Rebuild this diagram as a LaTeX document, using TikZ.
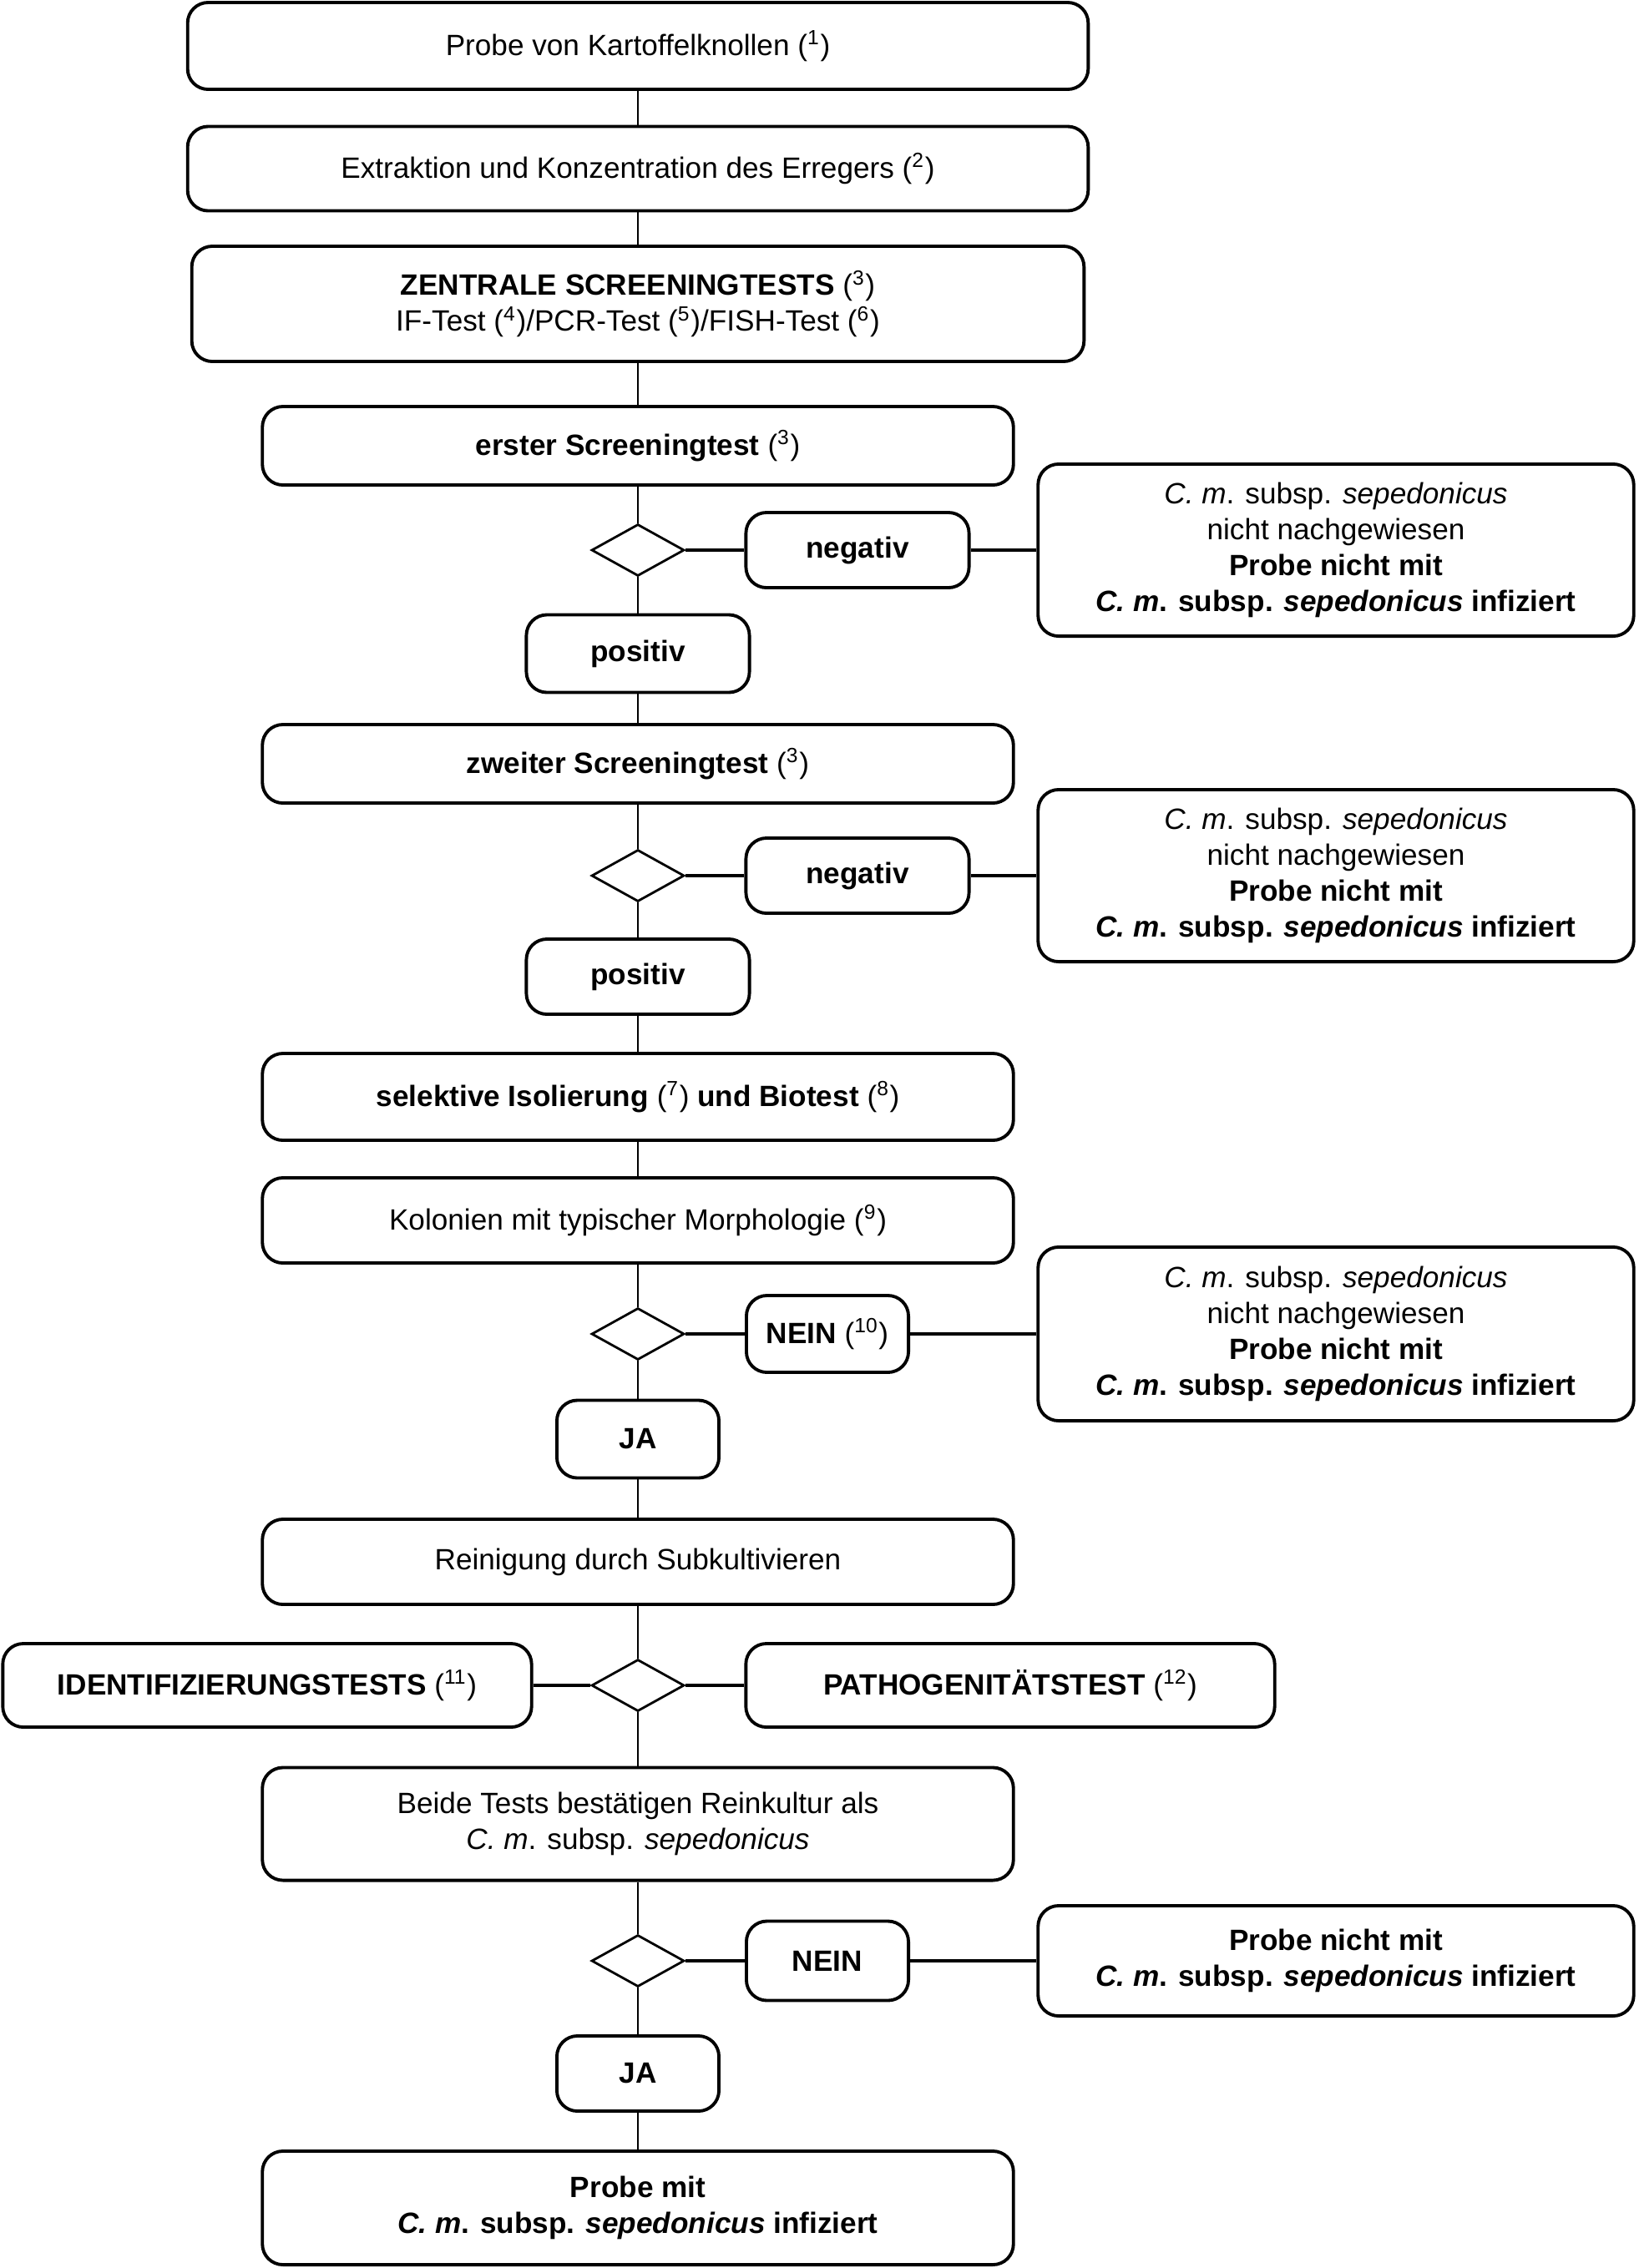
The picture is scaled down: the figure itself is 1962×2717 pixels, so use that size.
\documentclass[tikz,border=0pt]{standalone}
\usepackage{fontspec}
\setmainfont{Liberation Sans}
\usepackage{tikz}
\usetikzlibrary{shapes.geometric,positioning}
\newcommand{\fn}[1]{(\textsuperscript{#1})}
\newcommand{\cms}{\textit{C.~m}. subsp. \textit{sepedonicus}}
\tikzset{
  mainbox/.style={draw, rounded corners=7pt, align=center, line width=1.1pt,
                  font=\fontsize{10}{12.2}\selectfont, inner sep=2pt,
                  minimum width=#1},
  mainbox/.default=8.99cm,
  widebox/.style ={mainbox=10.78cm},
  resbox/.style  ={mainbox=7.13cm},
  answbox/.style ={mainbox=2.67cm, font=\fontsize{10}{12.2}\selectfont\bfseries},
  yesbox/.style  ={mainbox=1.94cm, font=\fontsize{10}{12.2}\selectfont\bfseries},
  testbox/.style ={mainbox=6.33cm, font=\fontsize{10}{12.2}\selectfont\bfseries},
  decision/.style={draw, diamond, line width=0.8pt, inner sep=0pt,
                   minimum width=1.11cm, minimum height=0.62cm},
  vlink/.style   ={line width=0.6pt},
  hlink/.style   ={line width=1.2pt},
}
\begin{document}
\begin{tikzpicture}[x=0.01cm,y=-0.01cm]
  \useasboundingbox (0,0) rectangle (1962,2717);
  % main column
  \node[widebox, minimum height=1.04cm] (probe) at (764,55) {Probe von Kartoffelknollen \fn{1}};
  \node[widebox, minimum height=1.01cm] (extr) at (764,202) {Extraktion und Konzentration des Erregers \fn{2}};
  \node[mainbox=10.68cm, minimum height=1.38cm] (zentr) at (764,364)
       {\textbf{ZENTRALE SCREENINGTESTS} \fn{3}\\IF-Test \fn{4}/PCR-Test \fn{5}/FISH-Test \fn{6}};
  \node[mainbox, minimum height=0.94cm, font=\fontsize{10}{12.2}\selectfont\bfseries] (scra) at (764,534)
       {erster Screeningtest \mdseries\fn{3}};
  \node[decision] (da) at (764,659) {};
  \node[answbox, minimum height=0.90cm] (nega) at (1027,659) {negativ};
  \node[resbox, minimum height=2.06cm] (resa) at (1600,659)
       {\cms\\nicht nachgewiesen\\\textbf{Probe nicht mit}\\\textbf{\cms\ infiziert}};
  \node[answbox, minimum height=0.93cm] (posa) at (764,783) {positiv};
  \node[mainbox, minimum height=0.94cm, font=\fontsize{10}{12.2}\selectfont\bfseries] (scrb) at (764,915)
       {zweiter Screeningtest \mdseries\fn{3}};
  \node[decision] (db) at (764,1049) {};
  \node[answbox, minimum height=0.90cm] (negb) at (1027,1049) {negativ};
  \node[resbox, minimum height=2.06cm] (resb) at (1600,1049)
       {\cms\\nicht nachgewiesen\\\textbf{Probe nicht mit}\\\textbf{\cms\ infiziert}};
  \node[answbox, minimum height=0.90cm] (posb) at (764,1170) {positiv};
  \node[mainbox, minimum height=1.04cm] (iso) at (764,1314)
       {\textbf{selektive Isolierung} \fn{7} \textbf{und Biotest} \fn{8}};
  \node[mainbox, minimum height=1.02cm] (kol) at (764,1462) {Kolonien mit typischer Morphologie \fn{9}};
  \node[decision] (dc) at (764,1598) {};
  \node[yesbox, minimum height=0.92cm] (neinc) at (991,1598) {NEIN \mdseries\fn{10}};
  \node[resbox, minimum height=2.08cm] (resc) at (1600,1598)
       {\cms\\nicht nachgewiesen\\\textbf{Probe nicht mit}\\\textbf{\cms\ infiziert}};
  \node[yesbox, minimum height=0.93cm] (jac) at (764,1724) {JA};
  \node[mainbox, minimum height=1.02cm] (rein) at (764,1871) {Reinigung durch Subkultivieren};
  \node[decision] (dd) at (764,2019) {};
  \node[testbox, minimum height=1.00cm] (ident) at (320,2019) {IDENTIFIZIERUNGSTESTS \mdseries\fn{11}};
  \node[testbox, minimum height=1.00cm] (patho) at (1210,2019) {PATHOGENITÄTSTEST \mdseries\fn{12}};
  \node[mainbox, minimum height=1.35cm] (beide) at (764,2185)
       {Beide Tests bestätigen Reinkultur als\\\cms};
  \node[decision] (de) at (764,2349) {};
  \node[yesbox, minimum height=0.95cm] (neine) at (991,2349) {NEIN};
  \node[resbox, minimum height=1.32cm] (rese) at (1600,2349)
       {\textbf{Probe nicht mit}\\\textbf{\cms\ infiziert}};
  \node[yesbox, minimum height=0.90cm] (jae) at (764,2484) {JA};
  \node[mainbox, minimum height=1.36cm] (final) at (764,2645)
       {\textbf{Probe mit}\\\textbf{\cms\ infiziert}};
  % vertical links
  \draw[vlink] (probe) -- (extr);
  \draw[vlink] (extr) -- (zentr);
  \draw[vlink] (zentr) -- (scra);
  \draw[vlink] (scra) -- (da) -- (posa) -- (scrb);
  \draw[vlink] (scrb) -- (db) -- (posb) -- (iso);
  \draw[vlink] (iso) -- (kol);
  \draw[vlink] (kol) -- (dc) -- (jac) -- (rein);
  \draw[vlink] (rein) -- (dd) -- (beide);
  \draw[vlink] (beide) -- (de) -- (jae) -- (final);
  % horizontal links
  \draw[hlink] (da) -- (nega) -- (resa);
  \draw[hlink] (db) -- (negb) -- (resb);
  \draw[hlink] (dc) -- (neinc) -- (resc);
  \draw[hlink] (ident) -- (dd) -- (patho);
  \draw[hlink] (de) -- (neine) -- (rese);
\end{tikzpicture}
\end{document}
